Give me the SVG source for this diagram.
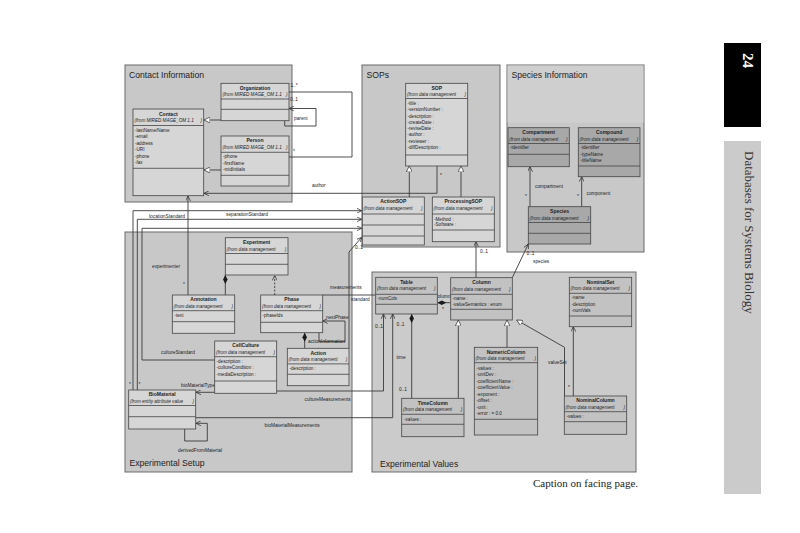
<svg xmlns="http://www.w3.org/2000/svg" width="800" height="533" viewBox="0 0 800 533">
<style>
text{font-family:"Liberation Sans",Arial,sans-serif;fill:#222}
.pt{font-size:8.6px}
.cn{font-size:5px;font-weight:bold;text-anchor:middle}
.fr{font-size:4.6px;font-style:italic}
.at{font-size:4.6px}
.lb{font-size:4.8px}
.pk{fill:#c8c8c8;stroke:#6a6a6a;stroke-width:1}
.bx{fill:#d6d6d6;stroke:#444;stroke-width:0.8}
.bd{fill:#a8a8a8;stroke:#444;stroke-width:0.8}
.bv{fill:#c2c2c2;stroke:#444;stroke-width:0.8}
.sp{stroke:#444;stroke-width:0.8}
.cl{fill:none;stroke:#3a3a3a;stroke-width:0.9}
.gen{marker-end:url(#gen)}
.arr{marker-end:url(#arr)}
.dia{marker-start:url(#dia)}
</style>
<defs>
<marker id="gen" viewBox="0 0 10 10" refX="10" refY="5" markerWidth="6" markerHeight="6" markerUnits="userSpaceOnUse" orient="auto"><path d="M0,0 L10,5 L0,10 z" fill="#fff" stroke="#333" stroke-width="1.2"/></marker>
<marker id="arr" viewBox="0 0 10 10" refX="10" refY="5" markerWidth="5" markerHeight="5" markerUnits="userSpaceOnUse" orient="auto"><path d="M0,0 L10,5 L0,10" fill="none" stroke="#333" stroke-width="1.5"/></marker>
<marker id="dia" viewBox="0 0 16 8" refX="0" refY="4" markerWidth="9" markerHeight="4.5" markerUnits="userSpaceOnUse" orient="auto"><path d="M0,4 L8,0 L16,4 L8,8 z" fill="#1a1a1a"/></marker>
</defs>
<rect width="800" height="533" fill="#fff"/>

<!-- page decorations -->
<rect x="724" y="43" width="37" height="84" fill="#000"/>
<text transform="translate(743,53) rotate(90)" style="font-family:'Liberation Serif',serif;font-size:15px;font-weight:bold;fill:#fff">24</text>
<rect x="724" y="141" width="37" height="353" fill="#cbcbcb"/>
<text transform="translate(745,151) rotate(90)" style="font-family:'Liberation Serif',serif;font-size:13px;fill:#333">Databases for Systems Biology</text>
<text x="533" y="487" style="font-family:'Liberation Serif',serif;font-size:11px;fill:#222">Caption on facing page.</text>

<!-- packages -->
<g id="pkg-contact"><rect class="pk" x="125" y="65" width="167" height="137"/><text class="pt" x="129" y="78.3">Contact Information</text></g>
<g id="pkg-sops"><rect class="pk" x="362" y="65" width="138" height="182"/><text class="pt" x="366.5" y="78.3">SOPs</text></g>
<g id="pkg-species"><rect class="pk" x="507" y="65" width="137" height="187"/><rect x="507.5" y="65.5" width="136" height="57" fill="#cfcfcf"/><text class="pt" x="511.5" y="78.3">Species Information</text></g>
<g id="pkg-setup"><rect class="pk" x="125" y="232" width="227" height="240"/><text class="pt" x="129.5" y="465.5">Experimental Setup</text></g>
<g id="pkg-values"><rect class="pk" x="372" y="272" width="264" height="200" style="fill:#cbcbcb"/><text class="pt" x="380" y="466.5">Experimental Values</text></g>

<!-- connectors -->
<g id="connectors">
<path class="cl gen" d="M221,120 L204,120"/>
<path class="cl gen" d="M221,170 L204,170"/>
<path class="cl" d="M289,92 L352,92 L352,157 L289,157"/>
<path class="cl arr" d="M284.7,120.7 L284.7,126 L316,126 L316,108.5 L289,108.5"/>
<path class="cl arr" d="M437,166 L437,193.3 L204,193.3"/>
<path class="cl arr" d="M188,295 L188,196"/>
<path class="cl arr" d="M133,390 L133,210.7 L361.7,210.7"/>
<path class="cl arr" d="M137.3,390 L137.3,219.3 L361.7,219.3"/>
<path class="cl arr" d="M214.7,360 L142,360 L142,228.3 L361.7,228.3"/>
<path class="cl arr" d="M349,348.3 L349,252 L361.7,237.3"/>
<path class="cl dia" d="M225.3,275 L225.3,295"/>
<path class="cl arr" d="M274.7,295 L274.7,275.5" stroke-dasharray="2,1.5"/>
<path class="cl dia" d="M304.7,332.7 L304.7,348.3"/>
<path class="cl arr" d="M319,332.7 L319,341.7 L345,341.7 L345,321 L322.7,321"/>
<path class="cl" d="M322.7,295 L375.7,295"/>
<path class="cl arr" d="M214.7,392.3 L196,392.3"/>
<path class="cl arr" d="M276.7,391 L383.5,391 L383.5,314"/>
<path class="cl arr" d="M195.7,417.7 L392.7,417.7 L392.7,314"/>
<path class="cl arr" d="M184.7,429 L184.7,441 L207.3,441 L207.3,423.3 L196,423.3"/>
<path class="cl dia" d="M411.7,314 L411.7,398.3"/>
<path class="cl gen" d="M458.3,398.3 L458.3,320"/>
<path class="cl gen" d="M507,347.3 L507,320"/>
<path class="cl gen" d="M564.5,396 L564.5,347.3 L516.7,320"/>
<path class="cl arr" d="M573.3,396 L573.3,326.7"/>
<path class="cl arr" d="M476,277.7 L476,241.7"/>
<path class="cl arr" d="M512.3,277.7 L528.3,244"/>
<path class="cl arr" d="M530,206.7 L530,166.7"/>
<path class="cl arr" d="M581.7,206.7 L581.7,176.7"/>
<path class="cl dia" d="M437.3,302.7 L450.7,302.7"/>
<path class="cl gen" d="M409.3,197 L409.3,166"/>
<path class="cl gen" d="M461,197 L461,166"/>
<text class="lb" x="290.5" y="86.5">1..*</text>
<text class="lb" x="290" y="101">0..1</text>
<text class="lb" x="293" y="153">*</text>
<text class="lb" x="294" y="120">parent</text>
<text class="lb" x="312" y="187">author</text>
<text class="lb" x="440" y="177">*</text>
<text class="lb" x="152" y="267.5">experimenter</text>
<text class="lb" x="183" y="286">*</text>
<text class="lb" x="226" y="215.5">separationStandard</text>
<text class="lb" x="149" y="218">locationStandard</text>
<text class="lb" x="161" y="354">cultureStandard</text>
<text class="lb" x="129" y="386">*</text>
<text class="lb" x="138.5" y="386">*</text>
<text class="lb" x="355" y="249">0..1</text>
<text class="lb" x="308" y="342.5">actionInformation</text>
<text class="lb" x="326" y="318.5">nextPhase</text>
<text class="lb" x="330" y="289">measurements</text>
<text class="lb" x="351" y="301">standard</text>
<text class="lb" x="181" y="387">bioMaterialType</text>
<text class="lb" x="304.5" y="401">cultureMeasurements</text>
<text class="lb" x="264.5" y="427">bioMaterialMeasurements</text>
<text class="lb" x="178" y="451.5">derivedFromMaterial</text>
<text class="lb" x="375" y="327.5">0..1</text>
<text class="lb" x="396.5" y="325.5">0..1</text>
<text class="lb" x="396.5" y="358.5">time</text>
<text class="lb" x="399" y="390.5">0..1</text>
<text class="lb" x="435" y="298">columns</text>
<text class="lb" x="442" y="311">*</text>
<text class="lb" x="480" y="253">0..1</text>
<text class="lb" x="526.5" y="255">0..1</text>
<text class="lb" x="533" y="263">species</text>
<text class="lb" x="535" y="188">compartment</text>
<text class="lb" x="525" y="198">*</text>
<text class="lb" x="586.5" y="194.5">component</text>
<text class="lb" x="577" y="198">*</text>
<text class="lb" x="548" y="363.5">valueSet</text>
<text class="lb" x="568" y="389">*</text>
</g>

<!-- Contact Information classes -->
<g id="organization">
<rect class="bx" x="221" y="83.3" width="68" height="37.4"/>
<line class="sp" x1="221" y1="99" x2="289" y2="99"/><line class="sp" x1="221" y1="109.3" x2="289" y2="109.3"/>
<text class="cn" x="255" y="89.7">Organization</text>
<text class="fr" x="222.5" y="96.2">(from MIRED MAGE_OM 1.1</text><text class="fr" x="286" y="96.2">)</text>
</g>
<g id="contact">
<rect class="bx" x="133" y="109" width="70.7" height="86.7"/>
<line class="sp" x1="133" y1="125.5" x2="203.7" y2="125.5"/><line class="sp" x1="133" y1="168.3" x2="203.7" y2="168.3"/>
<text class="cn" x="168.3" y="115.5">Contact</text>
<text class="fr" x="134.5" y="122.2">(from MIRED MAGE_OM 1.1</text><text class="fr" x="200.5" y="122.2">)</text>
<text class="at" x="135" y="131.6">-lastName/Name</text>
<text class="at" x="135" y="138.2">-email</text>
<text class="at" x="135" y="144.8">-address</text>
<text class="at" x="135" y="151">-URI</text>
<text class="at" x="135" y="157.5">-phone</text>
<text class="at" x="135" y="164">-fax</text>
</g>
<g id="person">
<rect class="bx" x="221" y="136" width="68" height="50"/>
<line class="sp" x1="221" y1="152.3" x2="289" y2="152.3"/><line class="sp" x1="221" y1="175.3" x2="289" y2="175.3"/>
<text class="cn" x="255" y="142.3">Person</text>
<text class="fr" x="222.5" y="149">(from MIRED MAGE_OM 1.1</text><text class="fr" x="286" y="149">)</text>
<text class="at" x="223" y="158.3">-phone</text>
<text class="at" x="223" y="164.9">-firstName</text>
<text class="at" x="223" y="171">-midInitials</text>
</g>

<!-- SOPs classes -->
<g id="sop">
<rect class="bx" x="405.7" y="83.3" width="62" height="82.7"/>
<line class="sp" x1="405.7" y1="98.5" x2="467.7" y2="98.5"/><line class="sp" x1="405.7" y1="155" x2="467.7" y2="155"/>
<text class="cn" x="436.7" y="89.6">SOP</text>
<text class="fr" x="407" y="96.2">(from data management</text><text class="fr" x="464.5" y="96.2">)</text>
<text class="at" x="407.5" y="104.9">-title :</text>
<text class="at" x="407.5" y="111.2">-versionNumber :</text>
<text class="at" x="407.5" y="117.5">-description :</text>
<text class="at" x="407.5" y="123.8">-createDate :</text>
<text class="at" x="407.5" y="130.1">-reviseDate :</text>
<text class="at" x="407.5" y="136.4">-author :</text>
<text class="at" x="407.5" y="142.7">-reviewer :</text>
<text class="at" x="407.5" y="149">-diffDescription :</text>
</g>
<g id="actionsop">
<rect class="bx" x="362.3" y="197" width="62" height="48"/>
<line class="sp" x1="362.3" y1="214" x2="424.3" y2="214"/><line class="sp" x1="362.3" y1="225" x2="424.3" y2="225"/><line class="sp" x1="362.3" y1="236" x2="424.3" y2="236"/>
<text class="cn" x="393.3" y="203.3">ActionSOP</text>
<text class="fr" x="363.6" y="210">(from data management</text><text class="fr" x="421" y="210">)</text>
</g>
<g id="processingsop">
<rect class="bx" x="432.3" y="197" width="62" height="44.7"/>
<line class="sp" x1="432.3" y1="214" x2="494.3" y2="214"/><line class="sp" x1="432.3" y1="230" x2="494.3" y2="230"/>
<text class="cn" x="463.3" y="203.3">ProcessingSOP</text>
<text class="fr" x="433.6" y="210">(from data management</text><text class="fr" x="491" y="210">)</text>
<text class="at" x="434" y="220.6">-Method :</text>
<text class="at" x="434" y="226.3">-Software :</text>
</g>

<!-- Species classes -->
<g id="compartment">
<rect class="bd" x="508" y="127.7" width="61.3" height="39"/>
<line class="sp" x1="508" y1="143.5" x2="569.3" y2="143.5"/><line class="sp" x1="508" y1="154.3" x2="569.3" y2="154.3"/>
<text class="cn" x="538.6" y="134">Compartment</text>
<text class="fr" x="509.3" y="140.7">(from data management</text><text class="fr" x="566" y="140.7">)</text>
<text class="at" x="510" y="149.2">-identifier</text>
</g>
<g id="compound">
<rect class="bd" x="578.3" y="127.7" width="61.7" height="49"/>
<line class="sp" x1="578.3" y1="143.5" x2="640" y2="143.5"/><line class="sp" x1="578.3" y1="166" x2="640" y2="166"/>
<text class="cn" x="609.2" y="134">Compound</text>
<text class="fr" x="579.6" y="140.7">(from data management</text><text class="fr" x="636.8" y="140.7">)</text>
<text class="at" x="580.5" y="149.2">-identifier</text>
<text class="at" x="580.5" y="155.5">-typeName</text>
<text class="at" x="580.5" y="161.7">-titleName</text>
</g>
<g id="species">
<rect class="bd" x="528.3" y="206.7" width="62.4" height="37.3"/>
<line class="sp" x1="528.3" y1="222.5" x2="590.7" y2="222.5"/><line class="sp" x1="528.3" y1="233.3" x2="590.7" y2="233.3"/>
<text class="cn" x="559.5" y="213">Species</text>
<text class="fr" x="529.6" y="219.7">(from data management</text><text class="fr" x="587.4" y="219.7">)</text>
</g>

<!-- Experimental Setup classes -->
<g id="experiment">
<rect class="bx" x="225.3" y="237.7" width="62.7" height="37.3"/>
<line class="sp" x1="225.3" y1="253.5" x2="288" y2="253.5"/><line class="sp" x1="225.3" y1="264.3" x2="288" y2="264.3"/>
<text class="cn" x="256.6" y="244">Experiment</text>
<text class="fr" x="226.6" y="250.7">(from data management</text><text class="fr" x="284.8" y="250.7">)</text>
</g>
<g id="annotation">
<rect class="bx" x="172.3" y="295" width="62.4" height="38.3"/>
<line class="sp" x1="172.3" y1="310.7" x2="234.7" y2="310.7"/><line class="sp" x1="172.3" y1="321.7" x2="234.7" y2="321.7"/>
<text class="cn" x="203.5" y="301.3">Annotation</text>
<text class="fr" x="173.6" y="308">(from data management</text><text class="fr" x="231.4" y="308">)</text>
<text class="at" x="174.5" y="317.3">-text</text>
</g>
<g id="phase">
<rect class="bx" x="260.7" y="295" width="62" height="37.7"/>
<line class="sp" x1="260.7" y1="310.7" x2="322.7" y2="310.7"/><line class="sp" x1="260.7" y1="322.3" x2="322.7" y2="322.3"/>
<text class="cn" x="291.7" y="301.3">Phase</text>
<text class="fr" x="262" y="308">(from data management</text><text class="fr" x="319.4" y="308">)</text>
<text class="at" x="262.5" y="317.3">-phaseIds</text>
</g>
<g id="cellculture">
<rect class="bx" x="214.7" y="341" width="62" height="52.3"/>
<line class="sp" x1="214.7" y1="356.7" x2="276.7" y2="356.7"/><line class="sp" x1="214.7" y1="381" x2="276.7" y2="381"/>
<text class="cn" x="245.7" y="347.3">CellCulture</text>
<text class="fr" x="216" y="354">(from data management</text><text class="fr" x="273.4" y="354">)</text>
<text class="at" x="216.5" y="363.3">-description :</text>
<text class="at" x="216.5" y="369.4">-cultureCondition :</text>
<text class="at" x="216.5" y="375.8">-mediaDescription :</text>
</g>
<g id="action">
<rect class="bx" x="287.3" y="348.3" width="61.7" height="37.4"/>
<line class="sp" x1="287.3" y1="363.9" x2="349" y2="363.9"/><line class="sp" x1="287.3" y1="374.3" x2="349" y2="374.3"/>
<text class="cn" x="318.2" y="354.6">Action</text>
<text class="fr" x="288.6" y="361.3">(from data management</text><text class="fr" x="345.8" y="361.3">)</text>
<text class="at" x="289.5" y="370">-description :</text>
</g>
<g id="biomaterial">
<rect class="bx" x="128.7" y="390" width="67" height="39"/>
<line class="sp" x1="128.7" y1="405.5" x2="195.7" y2="405.5"/><line class="sp" x1="128.7" y1="416.7" x2="195.7" y2="416.7"/>
<text class="cn" x="162.2" y="396.3">BioMaterial</text>
<text class="fr" x="130" y="403">(from entity attribute value</text><text class="fr" x="192.4" y="403">)</text>
</g>

<!-- Experimental Values classes -->
<g id="table">
<rect class="bv" x="375.7" y="277.3" width="61.6" height="36.7"/>
<line class="sp" x1="375.7" y1="294.3" x2="437.3" y2="294.3"/><line class="sp" x1="375.7" y1="304.3" x2="437.3" y2="304.3"/>
<text class="cn" x="406.5" y="283.6">Table</text>
<text class="fr" x="377" y="290.3">(from data management</text><text class="fr" x="434" y="290.3">)</text>
<text class="at" x="377.5" y="300.3">-numCols</text>
</g>
<g id="column">
<rect class="bv" x="450.7" y="277.7" width="61.6" height="42.3"/>
<line class="sp" x1="450.7" y1="294.3" x2="512.3" y2="294.3"/><line class="sp" x1="450.7" y1="309.3" x2="512.3" y2="309.3"/>
<text class="cn" x="481.5" y="284">Column</text>
<text class="fr" x="452" y="290.7">(from data management</text><text class="fr" x="509" y="290.7">)</text>
<text class="at" x="452.5" y="300">-name :</text>
<text class="at" x="452.5" y="306">-valueSemantics : enum</text>
</g>
<g id="nominalset">
<rect class="bv" x="569.3" y="277.3" width="62.4" height="49.4"/>
<line class="sp" x1="569.3" y1="293.3" x2="631.7" y2="293.3"/><line class="sp" x1="569.3" y1="316" x2="631.7" y2="316"/>
<text class="cn" x="600.5" y="283.6">NominalSet</text>
<text class="fr" x="570.6" y="290.3">(from data management</text><text class="fr" x="628.4" y="290.3">)</text>
<text class="at" x="571.5" y="299.3">-name</text>
<text class="at" x="571.5" y="305.6">-description</text>
<text class="at" x="571.5" y="312.4">-numVals</text>
</g>
<g id="numericcolumn">
<rect class="bv" x="474.3" y="347.3" width="63.4" height="87.7"/>
<line class="sp" x1="474.3" y1="362.7" x2="537.7" y2="362.7"/><line class="sp" x1="474.3" y1="419.3" x2="537.7" y2="419.3"/>
<text class="cn" x="506" y="353.6">NumericColumn</text>
<text class="fr" x="475.6" y="360.3">(from data management</text><text class="fr" x="534.4" y="360.3">)</text>
<text class="at" x="476.5" y="369.5">-values :</text>
<text class="at" x="476.5" y="376">-unitDev :</text>
<text class="at" x="476.5" y="382.5">-coefficientName :</text>
<text class="at" x="476.5" y="389">-coefficientValue :</text>
<text class="at" x="476.5" y="395.5">-exponent :</text>
<text class="at" x="476.5" y="402">-offset :</text>
<text class="at" x="476.5" y="408.5">-unit :</text>
<text class="at" x="476.5" y="415">-error : = 0.0</text>
</g>
<g id="timecolumn">
<rect class="bv" x="401.7" y="398.3" width="62.3" height="38.4"/>
<line class="sp" x1="401.7" y1="414.3" x2="464" y2="414.3"/><line class="sp" x1="401.7" y1="424.3" x2="464" y2="424.3"/>
<text class="cn" x="432.8" y="404.6">TimeColumn</text>
<text class="fr" x="403" y="411.3">(from data management</text><text class="fr" x="460.7" y="411.3">)</text>
<text class="at" x="404" y="420.6">-values :</text>
</g>
<g id="nominalcolumn">
<rect class="bv" x="564.3" y="396" width="62.4" height="38.3"/>
<line class="sp" x1="564.3" y1="411.7" x2="626.7" y2="411.7"/><line class="sp" x1="564.3" y1="421.7" x2="626.7" y2="421.7"/>
<text class="cn" x="595.5" y="402.3">NominalColumn</text>
<text class="fr" x="565.6" y="409">(from data management</text><text class="fr" x="623.4" y="409">)</text>
<text class="at" x="566.5" y="418">-values :</text>
</g>
</svg>
